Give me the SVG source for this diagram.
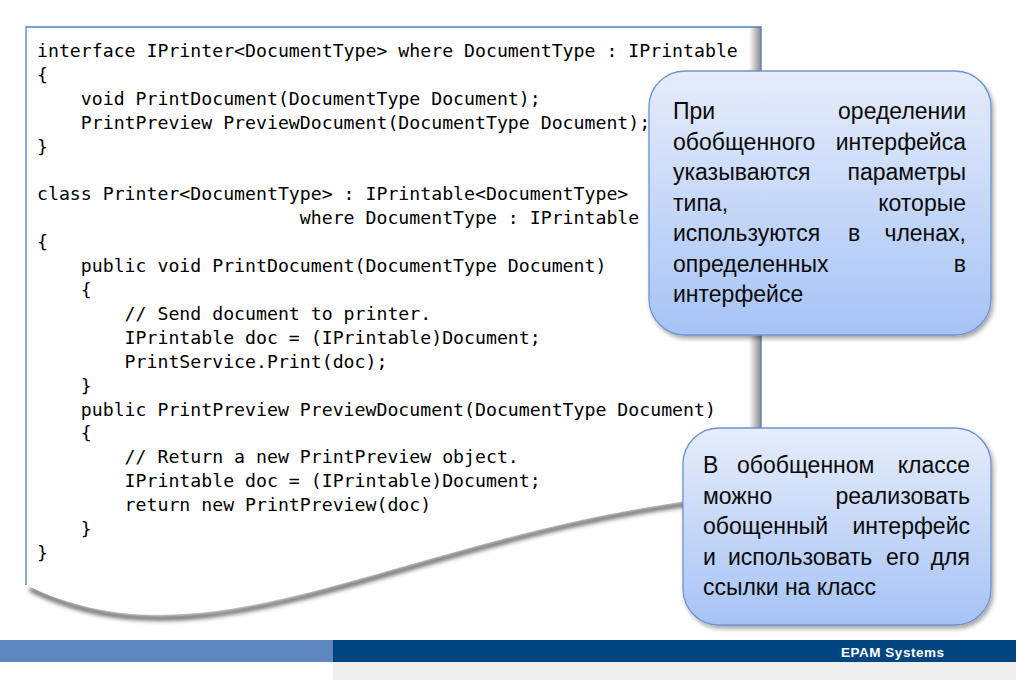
<svg xmlns="http://www.w3.org/2000/svg" width="1016" height="680" viewBox="0 0 1016 680">
<defs>
<style>
.code{font-family:"DejaVu Sans Mono","Liberation Mono",monospace;font-size:18.2px;fill:#000;white-space:pre}
.ct{font-family:"Liberation Sans","Noto Sans",sans-serif;font-size:23px;fill:#0a0a0a}
.e{text-anchor:end}
.callout{fill:url(#cg);stroke:#6f93cf;stroke-width:1.3;filter:url(#sh)}
</style>
<linearGradient id="cg" x1="0" y1="0" x2="0" y2="1">
<stop offset="0" stop-color="#e6edfb"/>
<stop offset="1" stop-color="#a6c3f6"/>
</linearGradient>
<linearGradient id="rg" x1="0" y1="0" x2="1" y2="0">
<stop offset="0" stop-color="#ffffff"/>
<stop offset="1" stop-color="#8a8a8a"/>
</linearGradient>
<filter id="sh" x="-10%" y="-10%" width="125%" height="125%">
<feDropShadow dx="2" dy="3" stdDeviation="2" flood-color="#000" flood-opacity="0.35"/>
</filter>
<filter id="blur" x="-5%" y="-20%" width="110%" height="140%">
<feGaussianBlur stdDeviation="2"/>
</filter>
<clipPath id="below">
<path d="M26,0 H1016 V680 H26 Z"/>
</clipPath>
</defs>
<rect width="1016" height="680" fill="#fff"/>
<g id="code-panel">
<g clip-path="url(#below)">
<path d="M760,493 C420,520 220,680 30,586" fill="none" stroke="#6a6a6a" stroke-width="5" filter="url(#blur)" transform="translate(0,3)"/>
</g>
<path d="M26,27 H761 V493 C420,520 220,680 26,585 Z" fill="#fff"/>
<rect x="749" y="27" width="12" height="467" fill="url(#rg)"/>
<path d="M26,585 V27 H761 V494" fill="none" stroke="#4f7fc0" stroke-width="1.3"/>
<text class="code" x="37" y="57">interface IPrinter&lt;DocumentType&gt; where DocumentType : IPrintable</text>
<text class="code" x="37" y="80.9">{</text>
<text class="code" x="37" y="104.8">    void PrintDocument(DocumentType Document);</text>
<text class="code" x="37" y="128.7">    PrintPreview PreviewDocument(DocumentType Document);</text>
<text class="code" x="37" y="152.6">}</text>
<text class="code" x="37" y="200.4">class Printer&lt;DocumentType&gt; : IPrintable&lt;DocumentType&gt;</text>
<text class="code" x="37" y="224.3">                        where DocumentType : IPrintable</text>
<text class="code" x="37" y="248.2">{</text>
<text class="code" x="37" y="272.1">    public void PrintDocument(DocumentType Document)</text>
<text class="code" x="37" y="296">    {</text>
<text class="code" x="37" y="319.9">        // Send document to printer.</text>
<text class="code" x="37" y="343.8">        IPrintable doc = (IPrintable)Document;</text>
<text class="code" x="37" y="367.7">        PrintService.Print(doc);</text>
<text class="code" x="37" y="391.6">    }</text>
<text class="code" x="37" y="415.5">    public PrintPreview PreviewDocument(DocumentType Document)</text>
<text class="code" x="37" y="439.4">    {</text>
<text class="code" x="37" y="463.3">        // Return a new PrintPreview object.</text>
<text class="code" x="37" y="487.2">        IPrintable doc = (IPrintable)Document;</text>
<text class="code" x="37" y="511.1">        return new PrintPreview(doc)</text>
<text class="code" x="37" y="535">    }</text>
<text class="code" x="37" y="558.9">}</text>
</g>
<g id="callout-1">
<rect class="callout" x="649" y="71" width="342" height="264" rx="36" ry="36"/>
<text class="ct" x="673" y="119">При</text>
<text class="ct e" x="966" y="119">оределении</text>
<text class="ct" x="673" y="149.5">обобщенного</text>
<text class="ct e" x="966" y="149.5">интерфейса</text>
<text class="ct" x="673" y="180">указываются</text>
<text class="ct e" x="966" y="180">параметры</text>
<text class="ct" x="673" y="210.5">типа,</text>
<text class="ct e" x="966" y="210.5">которые</text>
<text class="ct" x="673" y="241">используются</text>
<text class="ct" x="848" y="241">в</text>
<text class="ct e" x="966" y="241">членах,</text>
<text class="ct" x="673" y="271.5">определенных</text>
<text class="ct e" x="966" y="271.5">в</text>
<text class="ct" x="673" y="302">интерфейсе</text>
</g>
<g id="callout-2">
<rect class="callout" x="683" y="428" width="308" height="197" rx="36" ry="36"/>
<text class="ct" x="703" y="473">В</text>
<text class="ct" x="737" y="473">обобщенном</text>
<text class="ct e" x="970" y="473">классе</text>
<text class="ct" x="703" y="503.5">можно</text>
<text class="ct e" x="970" y="503.5">реализовать</text>
<text class="ct" x="703" y="534">обощенный</text>
<text class="ct e" x="970" y="534">интерфейс</text>
<text class="ct" x="703" y="564.5">и</text>
<text class="ct" x="728" y="564.5">использовать</text>
<text class="ct" x="886" y="564.5">его</text>
<text class="ct e" x="970" y="564.5">для</text>
<text class="ct" x="703" y="595" textLength="173">ссылки на класс</text>
</g>
<g id="connectors"/>
<g id="footer">
<rect x="0" y="640" width="333" height="22" fill="#5f87bf"/>
<rect x="333" y="640" width="683" height="22" fill="#00467e"/>
<rect x="333" y="662" width="683" height="18" fill="#efefef"/>
<text x="944" y="657" text-anchor="end" font-family="Liberation Sans, Arial, sans-serif" font-size="13.5" font-weight="bold" fill="#fff" textLength="103">EPAM Systems</text>
</g>
</svg>
